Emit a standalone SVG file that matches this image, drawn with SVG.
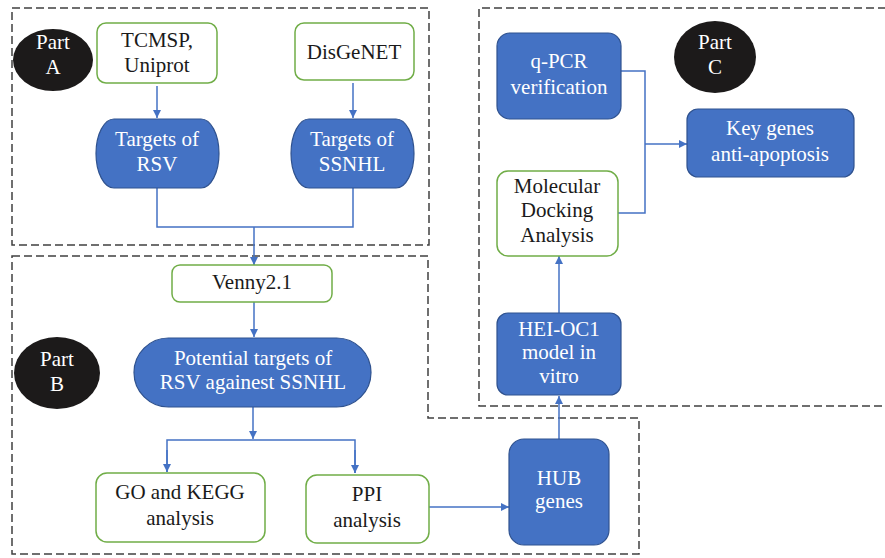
<svg xmlns="http://www.w3.org/2000/svg" width="885" height="558" viewBox="0 0 885 558">
<defs>
<style>
.txt{font-family:"Liberation Serif","Times New Roman",serif;font-size:21px;text-anchor:middle}
.dark{fill:#1a1a1a}
.white{fill:#ffffff}
.green{fill:#ffffff;stroke:#70ad47;stroke-width:1.5}
.blue{fill:#4472c4;stroke:#2f528f;stroke-width:1.2}
.part{fill:#1c1a1a}
.dash{fill:none;stroke:#404040;stroke-width:1.5;stroke-dasharray:8 4}
.conn{fill:none;stroke:#4472c4;stroke-width:1.5}
</style>
<marker id="arr" viewBox="0 0 10 10" refX="10" refY="5" markerWidth="8" markerHeight="8" markerUnits="userSpaceOnUse" orient="auto">
<path d="M0,0 L10,5 L0,10 z" fill="#4472c4"/>
</marker>
</defs>
<rect width="885" height="558" fill="#ffffff"/>

<g id="regions">
<rect class="dash" x="12" y="8" width="417" height="237"/>
<path class="dash" d="M12,256 L428,256 L428,418 L639,418 L639,554 L12,554 Z"/>
<path class="dash" d="M886,8 L479,8 L479,406 L886,406"/>
</g>

<g id="connectors">
<line class="conn" x1="157" y1="86" x2="157" y2="118" marker-end="url(#arr)"/>
<line class="conn" x1="353" y1="83" x2="353" y2="118" marker-end="url(#arr)"/>
<path class="conn" d="M157,188 L157,227 L353,227 L353,188"/>
<line class="conn" x1="254" y1="227" x2="254" y2="265" marker-end="url(#arr)"/>
<line class="conn" x1="254" y1="302" x2="254" y2="337" marker-end="url(#arr)"/>
<line class="conn" x1="253" y1="407" x2="253" y2="439" marker-end="url(#arr)"/>
<path class="conn" d="M167,472 L167,440 L355,440 L355,473" />
<line class="conn" x1="167" y1="450" x2="167" y2="472" marker-end="url(#arr)"/>
<line class="conn" x1="355" y1="450" x2="355" y2="473" marker-end="url(#arr)"/>
<line class="conn" x1="429" y1="507" x2="509" y2="507" marker-end="url(#arr)"/>
<line class="conn" x1="559" y1="439" x2="559" y2="396" marker-end="url(#arr)"/>
<line class="conn" x1="559" y1="313" x2="559" y2="256" marker-end="url(#arr)"/>
<path class="conn" d="M621,71 L645,71 L645,213 L618,213"/>
<line class="conn" x1="645" y1="144" x2="687" y2="144" marker-end="url(#arr)"/>
</g>

<g id="partA">
<ellipse class="part" cx="53" cy="60" rx="40" ry="31"/>
<text class="txt white" x="53" y="49">Part</text>
<text class="txt white" x="53" y="74">A</text>
</g>
<g id="tcmsp">
<rect class="green" x="97" y="23" width="120" height="60" rx="9"/>
<text class="txt dark" x="157" y="47">TCMSP,</text>
<text class="txt dark" x="157" y="72">Uniprot</text>
</g>
<g id="disgenet">
<rect class="green" x="295" y="23" width="119" height="57" rx="9"/>
<text class="txt dark" x="354" y="59">DisGeNET</text>
</g>
<g id="targetsRSV">
<rect class="blue" x="96" y="119" width="123" height="69" rx="18" ry="34.5"/>
<text class="txt white" x="157" y="146">Targets of</text>
<text class="txt white" x="157" y="171">RSV</text>
</g>
<g id="targetsSSNHL">
<rect class="blue" x="291" y="119" width="123" height="69" rx="18" ry="34.5"/>
<text class="txt white" x="352" y="146">Targets of</text>
<text class="txt white" x="352" y="171">SSNHL</text>
</g>

<g id="partB">
<ellipse class="part" cx="57" cy="373" rx="43" ry="36"/>
<text class="txt white" x="57" y="366">Part</text>
<text class="txt white" x="57" y="391">B</text>
</g>
<g id="venny">
<rect class="green" x="172" y="265" width="160" height="37" rx="8"/>
<text class="txt dark" x="252" y="289">Venny2.1</text>
</g>
<g id="potential">
<rect class="blue" x="134" y="338" width="237" height="69" rx="34.5" ry="34.5"/>
<text class="txt white" x="253" y="365">Potential targets of</text>
<text class="txt white" x="253" y="389">RSV againest SSNHL</text>
</g>
<g id="gokegg">
<rect class="green" x="96" y="473" width="169" height="69" rx="11"/>
<text class="txt dark" x="180" y="499">GO and KEGG</text>
<text class="txt dark" x="180" y="525">analysis</text>
</g>
<g id="ppi">
<rect class="green" x="306" y="475" width="123" height="68" rx="11"/>
<text class="txt dark" x="367" y="501">PPI</text>
<text class="txt dark" x="367" y="527">analysis</text>
</g>
<g id="hub">
<rect class="blue" x="509" y="439" width="100" height="106" rx="15"/>
<text class="txt white" x="559" y="485">HUB</text>
<text class="txt white" x="559" y="508">genes</text>
</g>

<g id="partC">
<ellipse class="part" cx="715" cy="57" rx="41" ry="36"/>
<text class="txt white" x="715" y="49">Part</text>
<text class="txt white" x="715" y="74">C</text>
</g>
<g id="qpcr">
<rect class="blue" x="497" y="33" width="124" height="86" rx="13"/>
<text class="txt white" x="559" y="68">q-PCR</text>
<text class="txt white" x="559" y="94">verification</text>
</g>
<g id="keygenes">
<rect class="blue" x="687" y="109" width="167" height="68" rx="11"/>
<text class="txt white" x="770" y="135">Key genes</text>
<text class="txt white" x="770" y="161">anti-apoptosis</text>
</g>
<g id="docking">
<rect class="green" x="497" y="171" width="121" height="85" rx="11"/>
<text class="txt dark" x="557" y="193">Molecular</text>
<text class="txt dark" x="557" y="217">Docking</text>
<text class="txt dark" x="557" y="242">Analysis</text>
</g>
<g id="heioc1">
<rect class="blue" x="497" y="313" width="124" height="82" rx="11"/>
<text class="txt white" x="559" y="336">HEI-OC1</text>
<text class="txt white" x="559" y="359">model in</text>
<text class="txt white" x="559" y="383">vitro</text>
</g>
</svg>
